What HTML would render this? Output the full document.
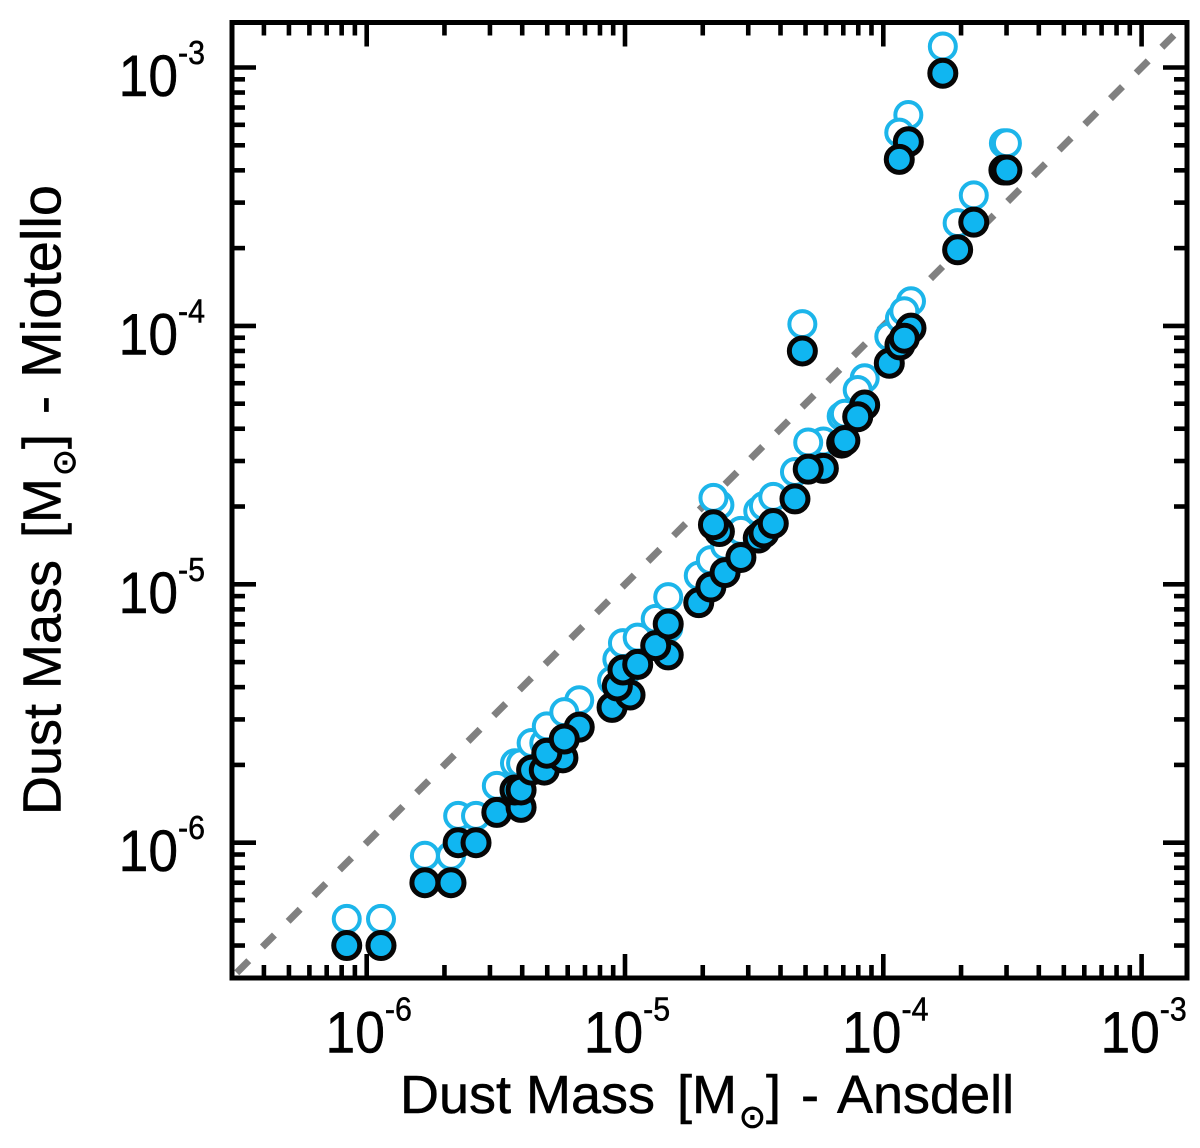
<!DOCTYPE html>
<html lang="en">
<head>
<meta charset="utf-8">
<title>Dust Mass comparison</title>
<style>
html,body{margin:0;padding:0;background:#fff;width:1200px;height:1148px;overflow:hidden}
svg{display:block}
text{font-family:"Liberation Sans",sans-serif;fill:#000;stroke:#000;stroke-width:0.5px}
.sun{font-family:"DejaVu Sans","Liberation Sans",sans-serif;stroke-width:0.9px}
</style>
</head>
<body>
<svg id="chart" xmlns="http://www.w3.org/2000/svg" width="1200" height="1148" viewBox="0 0 1200 1148">
  <rect x="0" y="0" width="1200" height="1148" fill="#fff"/>
  <g id="reference"></g>
  <g id="open-points"></g>
  <g id="filled-points"></g>
  <g id="axes"></g>
  <text y="1113" font-size="54"><tspan x="400">Dust Mass</tspan><tspan x="677">[M</tspan><tspan class="sun" x="739" y="1127.5" font-size="32">⊙</tspan><tspan x="766" y="1113">]</tspan><tspan x="801">-</tspan><tspan x="837">Ansdell</tspan></text>
  <text font-size="54" transform="translate(60.7 815) rotate(-90)" y="0"><tspan x="0">Dust Mass</tspan><tspan x="277">[M</tspan><tspan class="sun" x="339" y="14.5" font-size="32">⊙</tspan><tspan x="366" y="0">]</tspan><tspan x="401">-</tspan><tspan x="437" font-size="56">Miotello</tspan></text>
</svg>
<script>
const ansdellMass = [8.37e-7,1.136e-6,1.68e-6,2.12e-6,2.26e-6,2.65e-6,3.19e-6,3.96e-6,3.75e-6,3.96e-6,4.35e-6,4.87e-6,5.75e-6,4.98e-6,6.65e-6,5.82e-6,8.91e-6,1.046e-5,9.34e-6,9.82e-6,1.12e-5,1.47e-5,1.315e-5,1.47e-5,1.93e-5,2.15e-5,2.44e-5,2.81e-5,3.28e-5,3.45e-5,3.75e-5,4.55e-5,2.32e-5,2.2e-5,5.86e-5,5.12e-5,6.9e-5,7.1e-5,8.47e-5,7.96e-5,4.86e-5,1.055e-4,1.28e-4,1.16e-4,1.206e-4,1.25e-4,1.153e-4,1.7e-4,1.94e-4,2.24e-4,2.93e-4,3.01e-4];
const miotelloFilled = [4e-7,4e-7,7e-7,7e-7,1e-6,1e-6,1.31e-6,1.37e-6,1.6e-6,1.6e-6,1.91e-6,1.91e-6,2.13e-6,2.22e-6,2.8e-6,2.52e-6,3.34e-6,3.73e-6,4.04e-6,4.66e-6,4.9e-6,5.33e-6,5.79e-6,7.02e-6,8.49e-6,9.76e-6,1.11e-5,1.27e-5,1.51e-5,1.58e-5,1.72e-5,2.14e-5,1.6e-5,1.7e-5,2.81e-5,2.79e-5,3.52e-5,3.6e-5,4.94e-5,4.45e-5,8e-5,7.17e-5,9.8e-5,8.44e-5,8.96e-5,5.16e-4,4.41e-4,9.5e-4,1.97e-4,2.52e-4,4.01e-4,4.01e-4];
const miotelloOpen = [5.07e-7,5.07e-7,8.9e-7,8.9e-7,1.27e-6,1.27e-6,1.66e-6,1.74e-6,2.03e-6,2.03e-6,2.43e-6,2.43e-6,2.71e-6,2.82e-6,3.56e-6,3.2e-6,4.24e-6,4.74e-6,5.13e-6,5.92e-6,6.22e-6,6.77e-6,7.35e-6,8.92e-6,1.08e-5,1.24e-5,1.41e-5,1.61e-5,1.92e-5,2.01e-5,2.18e-5,2.72e-5,2.03e-5,2.16e-5,3.57e-5,3.54e-5,4.47e-5,4.57e-5,6.27e-5,5.65e-5,1.016e-4,9.1e-5,1.245e-4,1.07e-4,1.14e-4,6.55e-4,5.6e-4,1.206e-3,2.5e-4,3.2e-4,5.09e-4,5.09e-4];
const axisRange = [3e-7, 1.5e-3];
const majorTicks = [1e-6, 1e-5, 1e-4, 1e-3];
const majorExponents = ["-6", "-5", "-4", "-3"];
const minorMultipliers = [2, 3, 4, 5, 6, 7, 8, 9];
const minorDecades = [1e-7, 1e-6, 1e-5, 1e-4];

const SVG_NS = "http://www.w3.org/2000/svg";
const FRAME = {left: 232, right: 1187, top: 22.5, bottom: 978};
const X_ANCHOR = 366.7, Y_ANCHOR = 842.7, X_DECADE = 258.3, Y_DECADE = 258.4;

function xScale(v) { return X_ANCHOR + X_DECADE * (Math.log10(v) + 6); }
function yScale(v) { return Y_ANCHOR - Y_DECADE * (Math.log10(v) + 6); }

function make(tag, attrs, parent) {
  const el = document.createElementNS(SVG_NS, tag);
  for (const k in attrs) el.setAttribute(k, attrs[k]);
  parent.appendChild(el);
  return el;
}

/* one-to-one dashed line */
const refGroup = document.getElementById("reference");
const refLine = make("line", {
  x1: xScale(axisRange[0]), y1: yScale(axisRange[0]),
  x2: xScale(axisRange[1]), y2: yScale(axisRange[1]),
  stroke: "#808080", "stroke-width": 7,
  "stroke-dasharray": "17 19.35", "stroke-dashoffset": -7.2
}, refGroup);



/* open markers */
const openGroup = document.getElementById("open-points");
ansdellMass.forEach(function (x, i) {
  const c = make("circle", {
    cx: xScale(x), cy: yScale(miotelloOpen[i]), r: 13,
    fill: "#fff", stroke: "#1cb5ea", "stroke-width": 4
  }, openGroup);
  
  
});

/* filled markers */
const filledGroup = document.getElementById("filled-points");
ansdellMass.forEach(function (x, i) {
  const c = make("circle", {
    cx: xScale(x), cy: yScale(miotelloFilled[i]), r: 13,
    fill: "#10b6f1", stroke: "#060606", "stroke-width": 5
  }, filledGroup);
  
  
});

/* axes */
const axesGroup = document.getElementById("axes");
const frame = make("rect", {
  x: FRAME.left, y: FRAME.top,
  width: FRAME.right - FRAME.left, height: FRAME.bottom - FRAME.top,
  fill: "none", stroke: "#000", "stroke-width": 5
}, axesGroup);



function drawTicks(v, len, nameStem) {
  const px = xScale(v), py = yScale(v);
  const segs = [
    [px, FRAME.bottom, px, FRAME.bottom - len],
    [px, FRAME.top, px, FRAME.top + len],
    [FRAME.left, py, FRAME.left + len, py],
    [FRAME.right, py, FRAME.right - len, py]
  ];
  segs.forEach(function (s) {
    const t = make("line", {x1: s[0], y1: s[1], x2: s[2], y2: s[3], stroke: "#000", "stroke-width": 4.6}, axesGroup);
    
    
  });
}

majorTicks.forEach(function (v) { drawTicks(v, 24, 'major-tick'); });
minorDecades.forEach(function (d) {
  minorMultipliers.forEach(function (m) {
    const v = d * m;
    if (v > axisRange[0] * 1.01 && v < axisRange[1]) drawTicks(v, 13, 'minor-tick');
  });
});

function drawLabel(px, py, anchor, exponent, nameStem) {
  const t = make("text", {
    "font-size": 58, "text-anchor": anchor,
    transform: "translate(" + px + " " + py + ") scale(0.92 1)"
  }, axesGroup);
  
  
  const base = make("tspan", {}, t);
  base.textContent = "10";
  const sup = make("tspan", {"font-size": 33, dy: -32}, t);
  sup.textContent = exponent;
}

majorTicks.forEach(function (v, i) {
  drawLabel(xScale(v) + 2, 1052.5, "middle", majorExponents[i], 'x-tick-label');
  drawLabel(205, yScale(v) + 28.5, "end", majorExponents[i], 'y-tick-label');
});
</script>
</body>
</html>
